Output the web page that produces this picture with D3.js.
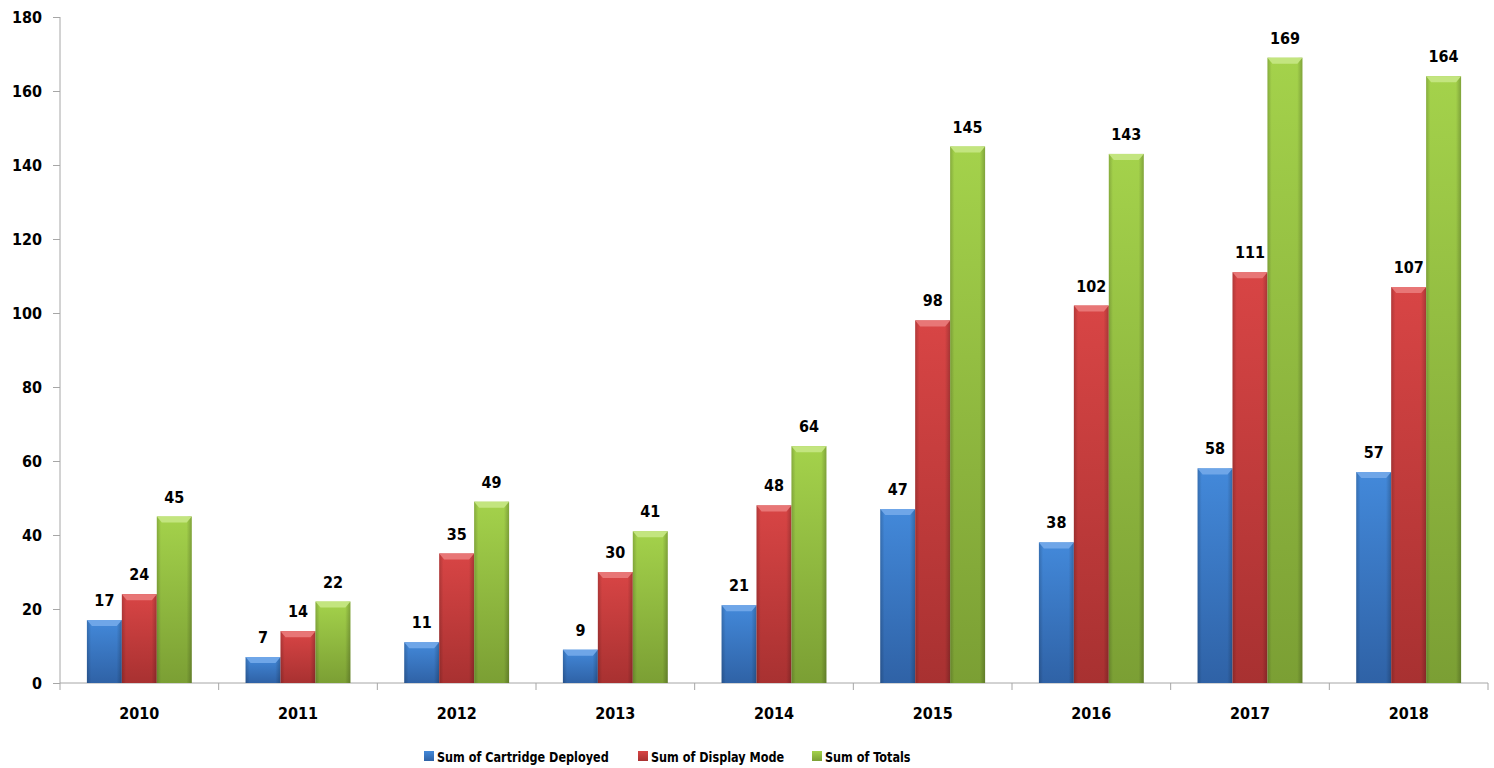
<!DOCTYPE html>
<html>
<head>
<meta charset="utf-8">
<script src="https://cdn.jsdelivr.net/npm/d3@7"></script>
<style>
  body { margin: 0; background: #fff; }
  svg text { font-family: "DejaVu Sans Condensed", "DejaVu Sans", sans-serif; font-weight: bold; }
</style>
</head>
<body>
<div id="chart"></div>
<script>
// data
var years = ["2010","2011","2012","2013","2014","2015","2016","2017","2018"];
var seriesNames = ["Sum of Cartridge Deployed","Sum of Display Mode","Sum of Totals"];
var cartridge = [17, 7, 11, 9, 21, 47, 38, 58, 57];
var displayMode = [24, 14, 35, 30, 48, 98, 102, 111, 107];
var totals = [45, 22, 49, 41, 64, 145, 143, 169, 164];
var yTicks = [0, 20, 40, 60, 80, 100, 120, 140, 160, 180];

var seriesValues = [cartridge, displayMode, totals];
// colours: top, bottom, bevel
var colors = [
  {top: "#4389da", bot: "#2f62a6", bevel: "#6fa6e8", key: "blue"},
  {top: "#d84545", bot: "#a83131", bevel: "#e87676", key: "red"},
  {top: "#a4d24b", bot: "#7b9f34", bevel: "#c3e57f", key: "green"}
];

var width = 1494, height = 768;
var plotLeft = 60, plotRight = 1488, plotTop = 17, plotBottom = 683;

var svg = d3.select("#chart").append("svg")
  .attr("width", width)
  .attr("height", height);

var defs = svg.append("defs");
colors.forEach(function(c){
  var g = defs.append("linearGradient").attr("id", "grad_" + c.key)
    .attr("x1", 0).attr("y1", 0).attr("x2", 0).attr("y2", 1);
  g.append("stop").attr("offset", "0%").attr("stop-color", c.top);
  g.append("stop").attr("offset", "100%").attr("stop-color", c.bot);
});
// side shading
var side = defs.append("linearGradient").attr("id", "sideShade")
  .attr("x1", 0).attr("y1", 0).attr("x2", 1).attr("y2", 0);
side.append("stop").attr("offset", "0%").attr("stop-color", "#000").attr("stop-opacity", 0.18);
side.append("stop").attr("offset", "12%").attr("stop-color", "#000").attr("stop-opacity", 0);
side.append("stop").attr("offset", "85%").attr("stop-color", "#000").attr("stop-opacity", 0);
side.append("stop").attr("offset", "100%").attr("stop-color", "#000").attr("stop-opacity", 0.22);

var x0 = d3.scaleBand().domain(years).range([plotLeft, plotRight]).padding(0);
var x1 = d3.scaleBand().domain(d3.range(3)).range([0, x0.bandwidth()])
  .paddingInner(0).paddingOuter(0.77);
var y = d3.scaleLinear().domain([0, 180]).range([plotBottom, plotTop]);

// y axis
var yAxis = svg.append("g")
  .attr("transform", "translate(" + plotLeft + ",0)")
  .call(d3.axisLeft(y).tickValues(yTicks).tickSize(7).tickSizeOuter(0).tickPadding(11));
yAxis.select(".domain").attr("stroke", "#a6a6a6").attr("d", "M0," + plotTop + "V" + (plotBottom + 7));
yAxis.selectAll(".tick line").attr("stroke", "#a6a6a6");
yAxis.selectAll(".tick text").attr("font-size", "16px").attr("fill", "#000")
  .attr("font-family", "'DejaVu Sans Condensed', 'DejaVu Sans', sans-serif");

// x axis
var xAxis = svg.append("g").attr("transform", "translate(0," + plotBottom + ")");
xAxis.append("line").attr("x1", plotLeft).attr("x2", plotRight).attr("y1", 0).attr("y2", 0)
  .attr("stroke", "#a6a6a6");
xAxis.selectAll(".bound").data(years).enter()
  .append("line")
  .attr("class", "bound")
  .attr("x1", function(d){ return x0(d) + x0.step(); })
  .attr("x2", function(d){ return x0(d) + x0.step(); })
  .attr("y1", 0).attr("y2", 7)
  .attr("stroke", "#a6a6a6");
xAxis.selectAll(".xl").data(years).enter()
  .append("text")
  .attr("class", "xl")
  .attr("x", function(d){ return x0(d) + x0.bandwidth() / 2; })
  .attr("y", 36)
  .attr("text-anchor", "middle")
  .attr("font-size", "16px")
  .text(function(d){ return d; });

// bars
var groups = svg.selectAll(".year").data(years).enter()
  .append("g").attr("class", "year")
  .attr("transform", function(d){ return "translate(" + x0(d) + ",0)"; });

groups.each(function(yr, yi){
  var g = d3.select(this);
  for (var s = 0; s < 3; s++) {
    var v = seriesValues[s][yi];
    var bx = x1(s), bw = x1.bandwidth();
    var by = y(v), bh = y(0) - y(v);
    g.append("rect")
      .attr("x", bx).attr("y", by).attr("width", bw).attr("height", bh)
      .attr("fill", "url(#grad_" + colors[s].key + ")");
    g.append("rect")
      .attr("x", bx).attr("y", by).attr("width", bw).attr("height", bh)
      .attr("fill", "url(#sideShade)");
    var bev = Math.min(6, bh);
    g.append("path")
      .attr("d", "M" + bx + "," + by + "H" + (bx + bw) + "L" + (bx + bw - 5) + "," + (by + bev) +
        "H" + (bx + 5) + "Z")
      .attr("fill", colors[s].bevel);
    g.append("text")
      .attr("x", bx + bw / 2)
      .attr("y", by - 14)
      .attr("text-anchor", "middle")
      .attr("font-size", "16px")
      .text(v);
  }
});

// legend
var legendX = [424, 638, 812];
var legend = svg.selectAll(".legend").data(seriesNames).enter()
  .append("g").attr("class", "legend")
  .attr("transform", function(d, i){ return "translate(" + legendX[i] + ",751)"; });
legend.append("rect")
  .attr("width", 10).attr("height", 10)
  .attr("fill", function(d, i){ return "url(#grad_" + colors[i].key + ")"; });
legend.append("text")
  .attr("x", 13).attr("y", 11)
  .attr("font-size", "14.5px")
  .text(function(d){ return d; })
  .each(function(){
    // squeeze to the narrower look of the original font
    var w = this.getComputedTextLength();
    d3.select(this).attr("textLength", w * 12.5 / 14.5).attr("lengthAdjust", "spacingAndGlyphs");
  });
</script>
</body>
</html>
